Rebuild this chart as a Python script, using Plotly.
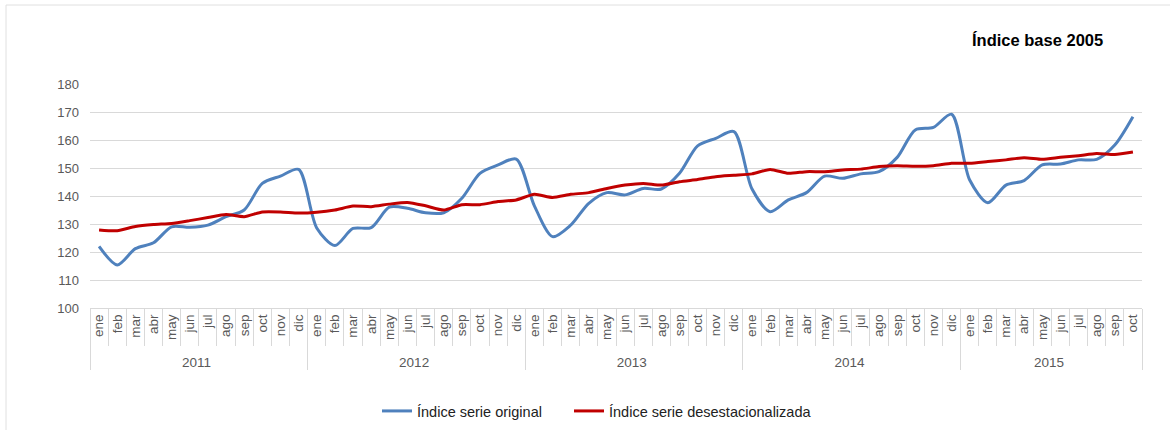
import plotly.graph_objects as go

years = ["2011", "2012", "2013", "2014", "2015"]
months = ["ene", "feb", "mar", "abr", "may", "jun", "jul", "ago", "sep", "oct", "nov", "dic"]
n_last = 10  # 2015 up to oct

original = [
    122.0, 115.4, 121.2, 123.3, 129.0, 128.8, 129.6, 132.6, 135.0, 144.5, 147.1, 149.5,
    128.6, 122.3, 128.4, 128.7, 136.0, 135.6, 134.0, 134.0, 139.2, 148.1, 151.1, 153.2,
    136.5, 125.5, 129.6, 137.4, 141.2, 140.4, 142.7, 142.5, 148.1, 157.9, 160.6, 163.0,
    142.5, 134.4, 138.6, 141.2, 147.1, 146.3, 147.9, 148.7, 153.8, 163.6, 164.5, 169.2,
    145.7, 137.6, 143.9, 145.5, 151.1, 151.4, 152.9, 153.1, 158.2, 168.3,
]
desest = [
    127.9, 127.6, 129.1, 129.8, 130.2, 131.2, 132.3, 133.4, 132.6, 134.3, 134.3, 133.9,
    134.2, 135.0, 136.4, 136.2, 137.1, 137.7, 136.5, 135.0, 136.9, 136.9, 138.0, 138.6,
    140.6, 139.5, 140.6, 141.2, 142.7, 143.9, 144.5, 143.9, 145.1, 145.9, 146.9, 147.4,
    147.9, 149.5, 148.1, 148.7, 148.7, 149.3, 149.6, 150.5, 150.8, 150.6, 150.8, 151.7,
    151.7, 152.3, 152.9, 153.7, 153.1, 153.8, 154.4, 155.2, 154.8, 155.7,
]

x_year = []
x_month = []
for i, y in enumerate(years):
    ms = months if i < len(years) - 1 else months[:n_last]
    for m in ms:
        x_year.append(y)
        x_month.append(m)

FONT = "Liberation Sans, Arial, sans-serif"
GRID = "#d9d9d9"
L, R, T, B = 90, 28, 84, 122
W, H = 1170, 430
PW, PH = W - L - R, H - T - B


def px(xp):
    return (xp - L) / PW


def py(yp):
    return (H - B - yp) / PH


fig = go.Figure()
fig.add_trace(go.Scatter(
    x=[x_year, x_month], y=original, mode="lines", name="Índice serie original",
    line=dict(color="#4f81bd", width=3, shape="spline", smoothing=0.8),
    legend="legend",
))
fig.add_trace(go.Scatter(
    x=[x_year, x_month], y=desest, mode="lines", name="Índice serie desestacionalizada",
    line=dict(color="#c00000", width=3, shape="spline", smoothing=0.6),
    legend="legend2",
))

leg_common = dict(orientation="h", xanchor="left", y=py(411), yanchor="middle",
                  font=dict(size=14.5, color="#222222"), itemwidth=30,
                  bgcolor="rgba(0,0,0,0)")

fig.update_layout(
    width=W, height=H,
    margin=dict(l=L, r=R, t=T, b=B, autoexpand=False),
    paper_bgcolor="white", plot_bgcolor="white",
    font=dict(family=FONT, color="#595959", size=13),
    showlegend=True,
    legend=dict(x=px(377), **leg_common),
    legend2=dict(x=px(569), **leg_common),
    xaxis=dict(
        type="multicategory", tickangle=-90, ticks="outside", tickson="boundaries",
        ticklen=37, tickcolor=GRID, showline=True, linecolor=GRID,
        showgrid=False, showdividers=True, dividercolor=GRID, dividerwidth=1,
        tickfont=dict(size=13.5, color="#595959"), automargin=False,
        range=[-0.5, len(original) - 0.5],
    ),
    yaxis=dict(
        range=[100, 180], dtick=10, showgrid=True, gridcolor=GRID, zeroline=False,
        showline=False, ticks="", tickfont=dict(size=13, color="#595959"),
        ticklabelstandoff=10, automargin=False,
    ),
    annotations=[dict(
        text="<b>Índice base 2005</b>", xref="paper", yref="paper",
        x=px(1037), y=py(40), xanchor="center", yanchor="middle",
        showarrow=False, font=dict(size=16.5, color="black", family=FONT),
    )],
    shapes=[
        dict(type="line", xref="paper", yref="paper",
             x0=px(6), x1=px(W), y0=py(5), y1=py(5),
             line=dict(color="#e0e0e0", width=1)),
        dict(type="line", xref="paper", yref="paper",
             x0=px(6), x1=px(6), y0=py(5), y1=py(H),
             line=dict(color="#e0e0e0", width=1)),
    ],
)

fig.write_html("out.html", config={"displayModeBar": False},
               post_script="document.body.style.margin='0';")
